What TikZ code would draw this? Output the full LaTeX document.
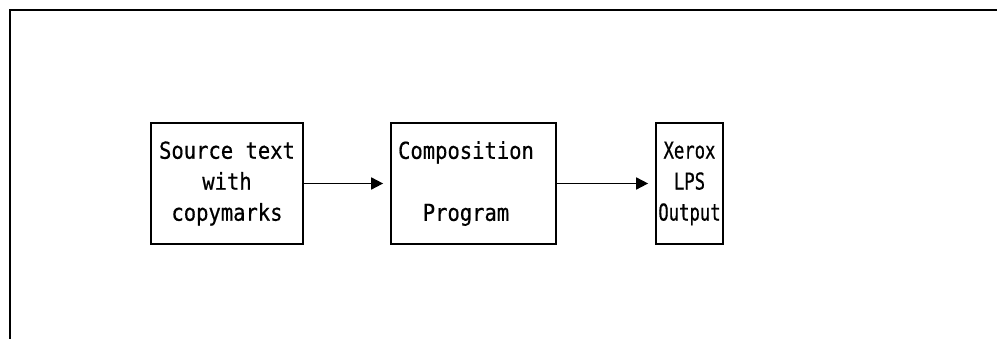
\documentclass[tikz,border=0pt]{standalone}
\usepackage{fontspec}
\setmonofont[FakeStretch=0.88,FakeBold=0.6]{DejaVu Sans Mono}
\newfontfamily\narrowmono[FakeStretch=0.74,FakeBold=0.6]{DejaVu Sans Mono}
\usetikzlibrary{arrows.meta}
\usetikzlibrary{positioning}
\tikzstyle{block}=[rectangle,draw,line width=1.7pt,minimum height=121pt,inner sep=0pt,align=center,font=\ttfamily\fontsize{23.3}{31}\selectfont]
\tikzstyle{flow} = [draw,line width=1.7pt,-{Triangle[length=12pt,width=12pt]},shorten >=7pt]
\tikzstyle{frame} = [draw,line width=2pt]

\begin{document}
\begin{tikzpicture}[x=1pt,y=1pt]
    \useasboundingbox (0,0) rectangle (997,339);

    % open frame round the chart
    \path[frame] (997,329) -| (10,0);

    \foreach \pos/\name/\boxw/\txt in {{(227,155.5)/source/152/{Source text\\with\\copymarks}},
                                       {(473.5,155.5)/compose/165/{\hspace*{-15pt}Composition\\\mbox{}\\\hspace*{-15pt}Program}}}
        \node[block,minimum width=\boxw pt] (\name) at \pos {\txt};

    \node[block,minimum width=67pt,font=\narrowmono\fontsize{23.3}{31}\selectfont] (lps) at (689.5,155.5) {Xerox\\LPS\\Output};

    \foreach \source/\dest in {source/compose, compose/lps}
        \path[flow] (\source) -- (\dest);

\end{tikzpicture}
\end{document}
